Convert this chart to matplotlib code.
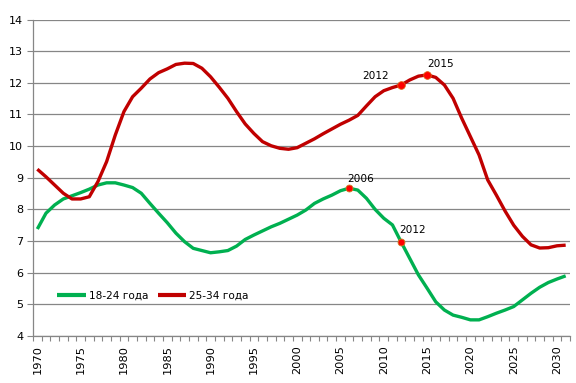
import numpy as np
import matplotlib
matplotlib.use("Agg")
import matplotlib.pyplot as plt
from matplotlib.ticker import MultipleLocator, FixedLocator

# years shown on the category axis
years = list(range(1970, 2032))

# share of the population, 18-24 years
young = [7.38, 7.88, 8.14, 8.33, 8.43, 8.53, 8.64, 8.77, 8.84, 8.84,
         8.77, 8.69, 8.51, 8.19, 7.88, 7.58, 7.25, 6.98, 6.77, 6.70,
         6.63, 6.66, 6.70, 6.84, 7.05, 7.19, 7.32, 7.45, 7.56, 7.69,
         7.82, 7.98, 8.19, 8.33, 8.45, 8.59, 8.67, 8.61, 8.35, 8.00,
         7.72, 7.51, 6.97, 6.45, 5.93, 5.51, 5.08, 4.82, 4.66, 4.59,
         4.51, 4.51, 4.61, 4.72, 4.82, 4.93, 5.14, 5.35, 5.54, 5.69,
         5.80, 5.90]

# share of the population, 25-34 years
adult = [9.27, 9.03, 8.77, 8.51, 8.33, 8.33, 8.40, 8.88, 9.51, 10.35,
         11.09, 11.56, 11.83, 12.12, 12.32, 12.44, 12.58, 12.62, 12.61, 12.46,
         12.19, 11.86, 11.51, 11.09, 10.70, 10.40, 10.14, 10.01, 9.93, 9.90,
         9.95, 10.09, 10.23, 10.39, 10.54, 10.69, 10.82, 10.97, 11.27, 11.56,
         11.75, 11.85, 11.93, 12.09, 12.21, 12.25, 12.17, 11.93, 11.51, 10.88,
         10.30, 9.72, 8.93, 8.45, 7.95, 7.50, 7.15, 6.88, 6.78, 6.79,
         6.85, 6.87]

labels = ["18-24 года", "25-34 года"]
young_marks = [2006, 2012]
adult_marks = [2012, 2015]

GREEN = "#00B050"
RED = "#C00000"
GRID = "#868686"

fig = plt.figure(figsize=(5.76, 3.83), dpi=100)
ax = fig.add_axes([33 / 576, 1 - 336 / 383, 537 / 576, 316.5 / 383])

ax.plot(years, young, color=GREEN, lw=2.4, solid_joinstyle="round",
        solid_capstyle="butt", label=labels[0], zorder=3)
ax.plot(years, adult, color=RED, lw=2.4, solid_joinstyle="round",
        solid_capstyle="butt", label=labels[1], zorder=3)

# highlighted points
for yr in young_marks:
    v = young[years.index(yr)]
    ax.plot(yr, v, "o", ms=5, color="#FF0000", mec="#D08020", mew=0.6, zorder=4)
for yr in adult_marks:
    v = adult[years.index(yr)]
    ax.plot(yr, v, "o", ms=5.5, color="#FF0000", mec="#E06010", mew=0.6, zorder=4)

fs = 7.6
ax.annotate("2006", (2006, young[years.index(2006)]), xytext=(-1, 3),
            textcoords="offset points", fontsize=fs, ha="left", va="bottom")
ax.annotate("2012", (2012, young[years.index(2012)]), xytext=(-1, 5),
            textcoords="offset points", fontsize=fs, ha="left", va="bottom")
ax.annotate("2012", (2012, adult[years.index(2012)]), xytext=(-9, 3),
            textcoords="offset points", fontsize=fs, ha="right", va="bottom")
ax.annotate("2015", (2015, adult[years.index(2015)]), xytext=(0, 4),
            textcoords="offset points", fontsize=fs, ha="left", va="bottom")

ax.set_xlim(1969.5, 2031.5)
ax.set_ylim(4, 14)
ax.yaxis.set_major_locator(MultipleLocator(1))
ax.set_xticks(list(range(1970, 2031, 5)))
ax.set_xticklabels([str(y) for y in range(1970, 2031, 5)], rotation=90)
ax.xaxis.set_minor_locator(FixedLocator(np.arange(1969.5, 2032, 1)))
ax.tick_params(axis="x", which="major", length=0, pad=6.5, labelsize=8.2)
ax.tick_params(axis="x", which="minor", length=3.5, color=GRID, width=0.8)
ax.tick_params(axis="y", length=4, color=GRID, width=0.8, labelsize=8.0, pad=3)

ax.grid(axis="y", color=GRID, lw=0.9)
ax.set_axisbelow(True)
for side in ["top", "right"]:
    ax.spines[side].set_visible(False)
for side in ["left", "bottom"]:
    ax.spines[side].set_color(GRID)
    ax.spines[side].set_linewidth(0.9)

leg = ax.legend(loc="center left", bbox_to_anchor=(0.045, 0.126), ncol=2,
                frameon=False, fontsize=fs, handlelength=2.7, handletextpad=0.3,
                columnspacing=0.9, borderpad=0, borderaxespad=0)
for line in leg.get_lines():
    line.set_linewidth(3.0)

fig.savefig("out.png", dpi=100)
